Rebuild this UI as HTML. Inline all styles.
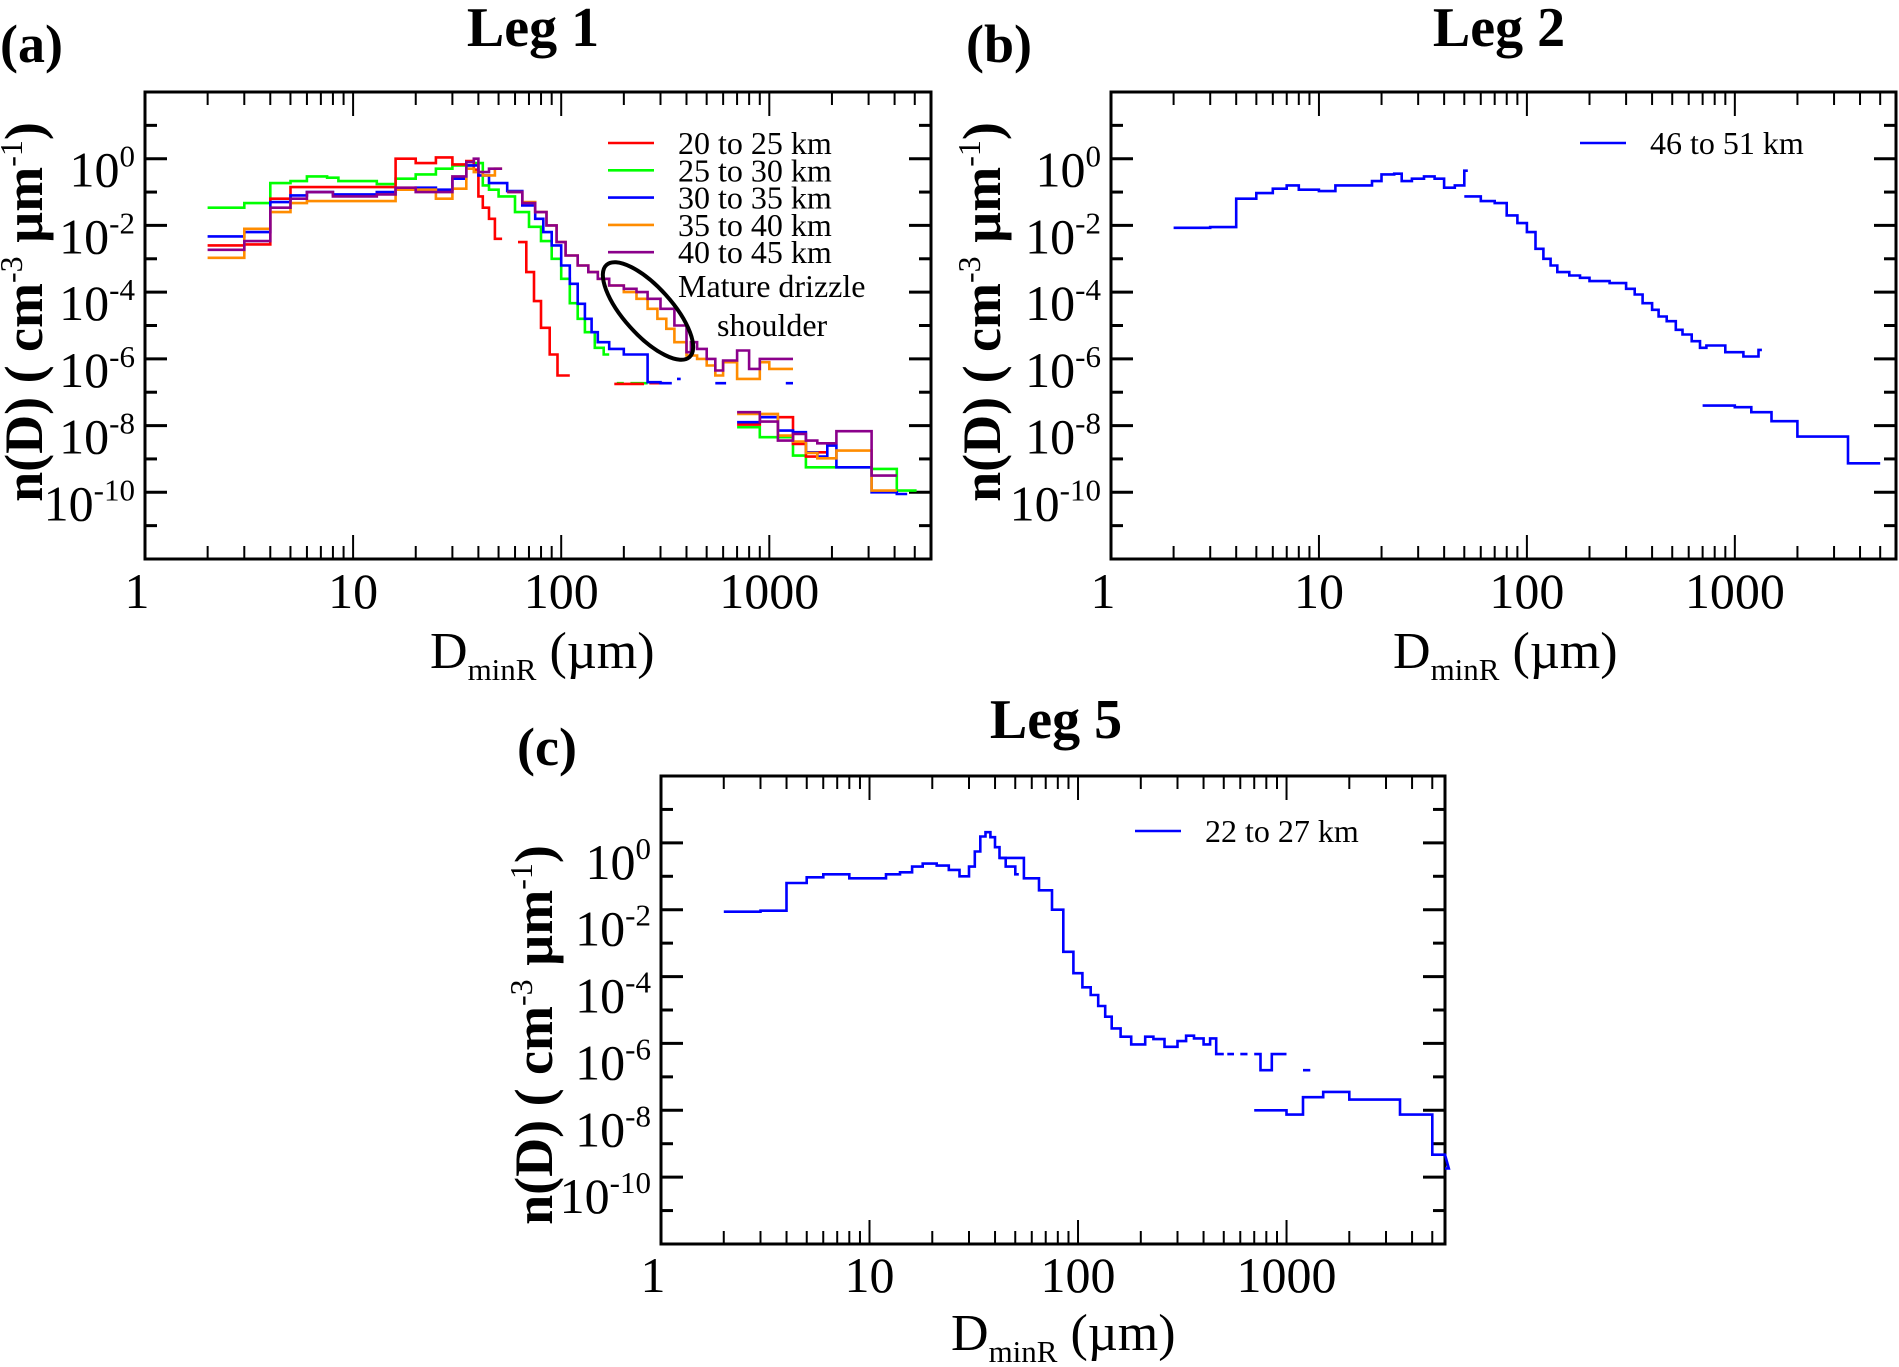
<!DOCTYPE html>
<html><head><meta charset="utf-8"><style>
html,body{margin:0;padding:0;background:#fff}
svg{display:block}
text{font-family:"Liberation Serif",serif;fill:#000}
</style></head><body>
<svg id="fig" width="1899" height="1367" viewBox="0 0 1899 1367" xmlns="http://www.w3.org/2000/svg"></svg>
<script>
// ---------- Data (edges in µm, values = log10 n(D); null = gap) ----------
const aRedX   = [2,3,4,5,16,20,25,30,35,38,40,42,45,48,52,62,68,74,80,88,96,110,120,130,150,165,180,250,265,310,330,350];
const aRedY   = [-2.6,-2.57,-1.2,-0.85,0,-0.13,0.04,-0.17,-0.07,-0.33,-1.13,-1.47,-1.8,-2.4,null,-2.5,-3.4,-4.27,-5.07,-5.87,-6.5,null,null,null,null,null,-6.75,null,-6.73,null,null];
const aRed2X  = [700,900,1100,1300,1500,1700,1900];
const aRed2Y  = [-7.97,-7.75,-7.75,-8.55,-8.93,-8.8];
const aGreenX = [2,3,4,5,6,7.5,8.5,13,16,20,25,30,38,42,45,50,60,70,80,90,100,110,120,130,145,160,170,185,200,215,260];
const aGreenY = [-1.47,-1.33,-0.73,-0.67,-0.53,-0.57,-0.67,-0.76,-0.6,-0.47,-0.3,-0.2,-0.13,-0.8,-0.93,-1.13,-1.6,-2.04,-2.47,-3,-3.6,-4.33,-4.8,-5.2,-5.67,-5.87,null,-6.73,null,-6.73];
const aGreen2X = [700,900,1100,1300,1500,1700,2100,3100,4100,5100];
const aGreen2Y = [-8.05,-8.35,-8.35,-8.9,-9.25,-9.25,-9.25,-9.3,-9.95];
const aBlueX  = [2,3,4,5,6,8,13,16,20,25,30,35,40,45,55,65,75,82,90,100,110,120,130,140,150,170,200,260,300,340,360,375,550,620,1200,1300];
const aBlueY  = [-2.33,-2.2,-1.3,-1.1,-1.0,-1.07,-1.0,-0.9,-0.87,-0.93,-0.6,-0.2,-0.5,-0.73,-0.97,-1.4,-1.8,-2.2,-2.6,-3.2,-3.75,-4.35,-4.8,-5.2,-5.5,-5.7,-5.87,-6.7,-6.73,null,-6.6,null,-6.73,null,-6.73];
const aBlue2X = [700,900,1100,1300,1500,1700,1900,2100,3100,4100,4600];
const aBlue2Y = [-7.9,-7.75,-8.15,-8.2,-8.8,-8.93,-8.6,-9.25,-10.0,-10.05];
const aOrangeX = [2,3,4,5,6,8,16,20,25,30,35,38,42,48,52,55,65,75,85,95,105,120,135,150,170,200,230,260,290,320,350,400,450,500,550,600,700,900,1000,1300];
const aOrangeY = [-2.97,-2.1,-1.6,-1.33,-1.27,-1.27,-0.93,-0.93,-1.2,-0.9,-0.3,-0.4,-0.5,-0.3,null,-1.0,-1.3,-1.6,-2.0,-2.5,-2.9,-3.2,-3.4,-3.6,-3.8,-4.0,-4.2,-4.5,-4.8,-5.1,-5.5,-5.9,-6.0,-6.2,-6.5,-6.1,-6.6,-6.1,-6.3];
const aOrange2X = [700,900,1100,1300,1500,1700,1900,2100,3100,4100];
const aOrange2Y = [-7.65,-7.65,-8.3,-8.48,-8.82,-8.98,-8.98,-8.75,-9.95];
const aPurpleX = [2,3,4,5,6,8,13,16,20,25,30,35,38,40,45,52,55,65,75,85,95,105,120,135,150,170,200,230,260,300,350,400,420,450,500,550,600,700,800,900,1300];
const aPurpleY = [-2.73,-2.47,-1.47,-1.2,-1.0,-1.13,-1.07,-0.87,-1.0,-1.0,-0.53,-0.1,0.0,-0.4,-0.3,null,-1.0,-1.33,-1.6,-2.0,-2.5,-2.9,-3.2,-3.4,-3.6,-3.8,-3.9,-4.0,-4.2,-4.5,-5.0,-5.8,-5.5,-5.7,-6.0,-6.35,-6.05,-5.75,-6.3,-6.0];
const aPurple2X = [700,900,1100,1300,1500,1700,1900,2100,3100,4100];
const aPurple2Y = [-7.6,-7.88,-8.45,-8.25,-8.45,-8.53,-8.53,-8.17,-9.5];

const bBlueX = [2,3,4,5,6,7,8,10,12,16,18,20,23,25,28,32,36,40,45,50,52];
const bBlueY = [-2.07,-2.05,-1.2,-1.03,-0.9,-0.8,-0.93,-0.97,-0.8,-0.8,-0.67,-0.47,-0.45,-0.67,-0.6,-0.53,-0.6,-0.87,-0.8,-0.36];
const bBlue2X = [50,60,70,80,90,100,110,120,130,140,160,180,200,250,300,330,360,400,430,470,520,560,620,680,730,900,1100,1300,1350];
const bBlue2Y = [-1.13,-1.27,-1.33,-1.7,-1.93,-2.2,-2.7,-3.0,-3.2,-3.4,-3.5,-3.57,-3.67,-3.73,-3.9,-4.07,-4.33,-4.53,-4.73,-4.87,-5.13,-5.27,-5.47,-5.67,-5.6,-5.8,-5.93,-5.73];
const bBlue3X = [700,1000,1200,1500,2000,3500,5000];
const bBlue3Y = [-7.4,-7.45,-7.6,-7.87,-8.33,-9.13];

const cBlueX = [2,3,4,5,6,8,12,14,16,18,21,24,27,30,32,34,36,38,40,42,45,50,52];
const cBlueY = [-2.06,-2.03,-1.2,-1.03,-0.94,-1.06,-0.94,-0.88,-0.71,-0.62,-0.68,-0.81,-1.0,-0.71,-0.26,0.19,0.32,0.17,-0.13,-0.45,-0.71,-0.94];
const cBlue2X = [42,55,65,75,85,95,105,115,125,135,145,160,180,210,230,260,300,330,360,400,430,460,500,520,560,600,650,700,750,850,1000,1200,1300];
const cBlue2Y = [-0.45,-1.06,-1.42,-2.0,-3.26,-3.9,-4.32,-4.55,-4.88,-5.2,-5.55,-5.8,-6.03,-5.8,-5.87,-6.1,-5.93,-5.77,-5.85,-6.03,-5.85,-6.32,null,-6.32,null,-6.32,null,-6.32,-6.8,-6.32,null,-6.8];
const cBlue3X = [700,1000,1200,1500,2000,3500,5000,6000,7000];
const cBlue3Y = [-8.0,-8.13,-7.61,-7.45,-7.68,-8.13,-9.33,-9.74];

const xTickLabels = ["1","10","100","1000"];
const yTickExps = ["0","-2","-4","-6","-8","-10"];
const legendA = ["20 to 25 km","25 to 30 km","30 to 35 km","35 to 40 km","40 to 45 km"];

// ---------- Drawing ----------
const NS = "http://www.w3.org/2000/svg";
const svg = document.getElementById("fig");
function mk(tag, attrs, parent){ const e=document.createElementNS(NS,tag); for(const k in attrs) e.setAttribute(k,attrs[k]); (parent||svg).appendChild(e); return e; }

function makePanel(p){
  const g = mk("g",{});
  
  
  const sx = v => p.x0 + (Math.log10(v) - p.lxmin) / (p.lxmax - p.lxmin) * (p.x1 - p.x0);
  const sy = l => p.y0 + (p.lymax - l) / (p.lymax - p.lymin) * (p.y1 - p.y0);
  p.sx = sx; p.sy = sy; p.g = g;
  const box = mk("rect",{x:p.x0,y:p.y0,width:p.x1-p.x0,height:p.y1-p.y0,fill:"none",stroke:"#000","stroke-width":3},g);
  
  
  for(let d=0; d<4; d++){
    for(let m=1; m<=9; m++){
      const v = Math.pow(10,d)*m;
      if(Math.log10(v) > p.lxmax) continue;
      if(d===0 && m===1) continue;
      const X = sx(v), L = (m===1)?24:13;
      mk("line",{x1:X,y1:p.y1,x2:X,y2:p.y1-L,stroke:"#000","stroke-width":2},g);
      mk("line",{x1:X,y1:p.y0,x2:X,y2:p.y0+L,stroke:"#000","stroke-width":2},g);
    }
  }
  xTickLabels.forEach((t,i)=>{
    const tx = mk("text",{x:sx(Math.pow(10,i)) - (i===0?8:0),y:p.xlabY,"font-size":50,"text-anchor":"middle"},g);
    tx.textContent = t;
    
    
  });
  for(let e=1; e>=-11; e--){
    const Y = sy(e), L = (e%2===0)?22:12;
    mk("line",{x1:p.x0,y1:Y,x2:p.x0+L,y2:Y,stroke:"#000","stroke-width":3},g);
    mk("line",{x1:p.x1,y1:Y,x2:p.x1-L,y2:Y,stroke:"#000","stroke-width":3},g);
  }
  yTickExps.forEach(ex=>{
    const tx = mk("text",{x:p.x0-10,y:sy(+ex)+p.ylabOff,"font-size":50,"text-anchor":"end"},g);
    
    
    const t1 = mk("tspan",{},tx); t1.textContent="10";
    const t2 = mk("tspan",{dy:-20,"font-size":31},tx); t2.textContent=ex;
  });
  const xt = mk("text",{x:p.xtX,y:p.xtY,"font-size":52},g);
  
  
  const a1=mk("tspan",{},xt); a1.textContent="D";
  const a2=mk("tspan",{dy:12,"font-size":31},xt); a2.textContent="minR";
  const a3=mk("tspan",{dy:-12},xt); a3.textContent=" (\u00b5m)";
  const yt = mk("text",{x:0,y:0,"font-size":54,"font-weight":"bold","text-anchor":"middle",transform:`translate(${p.ytX},${p.ytY}) rotate(-90)`},g);
  
  
  const b1=mk("tspan",{},yt); b1.textContent="n(D) ( cm";
  const b2=mk("tspan",{dy:-20,"font-size":32,"font-weight":"normal"},yt); b2.textContent="-3";
  const b3=mk("tspan",{dy:20},yt); b3.textContent="  \u00b5m";
  const b4=mk("tspan",{dy:-20,"font-size":32,"font-weight":"normal"},yt); b4.textContent="-1";
  const b5=mk("tspan",{dy:20},yt); b5.textContent=")";
  const tt = mk("text",{x:p.titleX,y:p.titleY,"font-size":56,"font-weight":"bold","text-anchor":"middle"},g);
  tt.textContent = p.title;
  
  
  const lt = mk("text",{x:p.letX,y:p.letY,"font-size":54,"font-weight":"bold"},g);
  lt.textContent = p.letter;
  
  
  return p;
}

function drawStep(p, edges, vals, color, name){
  let d = "", prev = null;
  for(let i=0;i<vals.length;i++){
    const v = vals[i];
    if(v===null){ prev=null; continue; }
    const xa = p.sx(edges[i]), xb = Math.min(p.sx(edges[i+1]), p.x1), y = p.sy(v);
    if(prev===null) d += `M${xa.toFixed(1)},${y.toFixed(1)}`;
    else d += `L${xa.toFixed(1)},${y.toFixed(1)}`;
    d += `L${xb.toFixed(1)},${y.toFixed(1)}`;
    prev = v;
  }
  const path = mk("path",{d:d,fill:"none",stroke:color,"stroke-width":2.6,"stroke-linejoin":"miter"},p.g);
  
  
}

function legendEntry(p, x1, x2, tx, y, color, label){
  const ln = mk("line",{x1:x1,y1:y,x2:x2,y2:y,stroke:color,"stroke-width":2.6},p.g);
  
  
  const t = mk("text",{x:tx,y:y+11,"font-size":32},p.g);
  t.textContent = label;
  
  
}

const pa = makePanel({name:"panel-a-leg1",x0:145,x1:931,y0:92,y1:559,lxmin:0,lxmax:3.777,lymin:-12,lymax:2,xlabY:608,ylabOff:28,xtX:430,xtY:668,ytX:42,ytY:312,title:"Leg 1",titleX:533,titleY:46,letter:"(a)",letX:0,letY:62});
const pb = makePanel({name:"panel-b-leg2",x0:1111,x1:1896,y0:92,y1:559,lxmin:0,lxmax:3.775,lymin:-12,lymax:2,xlabY:608,ylabOff:28,xtX:1393,xtY:668,ytX:1000,ytY:312,title:"Leg 2",titleX:1499,titleY:46,letter:"(b)",letX:966,letY:62});
const pc = makePanel({name:"panel-c-leg5",x0:661,x1:1445,y0:776,y1:1244,lxmin:0,lxmax:3.76,lymin:-12,lymax:2,xlabY:1292,ylabOff:36,xtX:951,xtY:1350,ytX:552,ytY:1035,title:"Leg 5",titleX:1056,titleY:738,letter:"(c)",letX:517,letY:765});

const RED="#ff0000", GREEN="#00ff00", BLUE="#0000ff", ORANGE="#ff8c00", PURPLE="#8b008b";
drawStep(pa, aGreenX, aGreenY, GREEN, "series-25-30km");
drawStep(pa, aGreen2X, aGreen2Y, GREEN, "series-25-30km-large");
drawStep(pa, aRedX, aRedY, RED, "series-20-25km");
drawStep(pa, aRed2X, aRed2Y, RED, "series-20-25km-large");
drawStep(pa, aBlueX, aBlueY, BLUE, "series-30-35km");
drawStep(pa, aBlue2X, aBlue2Y, BLUE, "series-30-35km-large");
drawStep(pa, aOrangeX, aOrangeY, ORANGE, "series-35-40km");
drawStep(pa, aOrange2X, aOrange2Y, ORANGE, "series-35-40km-large");
drawStep(pa, aPurpleX, aPurpleY, PURPLE, "series-40-45km");
drawStep(pa, aPurple2X, aPurple2Y, PURPLE, "series-40-45km-large");
[RED,GREEN,BLUE,ORANGE,PURPLE].forEach((c,i)=>legendEntry(pa,608,654,678,143+i*27.3,c,legendA[i]));
const m1 = mk("text",{x:678,y:297,"font-size":32},pa.g); m1.textContent="Mature drizzle";


const m2 = mk("text",{x:717,y:336,"font-size":32},pa.g); m2.textContent="shoulder";


const ell = mk("ellipse",{cx:648,cy:311,rx:62,ry:24,fill:"none",stroke:"#000","stroke-width":4,transform:"rotate(48 648 311)"},pa.g);



drawStep(pb, bBlueX, bBlueY, BLUE, "series-46-51km");
drawStep(pb, bBlue2X, bBlue2Y, BLUE, "series-46-51km-mid");
drawStep(pb, bBlue3X, bBlue3Y, BLUE, "series-46-51km-large");
legendEntry(pb,1580,1626,1650,143,BLUE,"46 to 51 km");

drawStep(pc, cBlueX, cBlueY, BLUE, "series-22-27km");
drawStep(pc, cBlue2X, cBlue2Y, BLUE, "series-22-27km-mid");
drawStep(pc, cBlue3X, cBlue3Y, BLUE, "series-22-27km-large");
legendEntry(pc,1135,1181,1205,831,BLUE,"22 to 27 km");
</script>
</body></html>
